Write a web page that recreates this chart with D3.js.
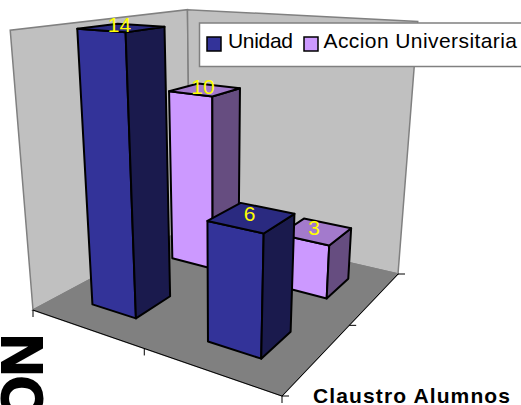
<!DOCTYPE html>
<html><head><meta charset="utf-8">
<script src="https://cdn.jsdelivr.net/npm/d3@7"></script>
<style>html,body{margin:0;background:#fff}svg{display:block}text{font-family:"Liberation Sans",Arial,sans-serif}</style>
</head><body><svg id="chart" width="521" height="405"></svg>
<script>
// Chart data
const categories = ["Claustro Docentes", "Claustro Alumnos"];
const seriesNames = ["Unidad", "Accion Universitaria"];
const unidad = [14, 6];
const accion = [10, 3];
const axisMax = 14;
const seriesFill = { "Unidad": ["#333399", "#1a1a4d", "#2a2a80"], "Accion Universitaria": ["#cc99ff", "#664d80", "#a37acc"] };

// Box corners of the 3D plot on screen
const floorCorners = [[33, 310], [282, 396], [398, 274], [190, 226]];
const wallTops = [[0, 0, 9, 29], [0, 1, 189, 11], [1, 1, 417, 21]];

// Plane-to-screen homography for the floor
function floorMatrix(q) {
  const [[x0, y0], [x1, y1], [x2, y2], [x3, y3]] = q;
  const dx1 = x1 - x2, dx2 = x3 - x2, sx = x0 - x1 + x2 - x3;
  const dy1 = y1 - y2, dy2 = y3 - y2, sy = y0 - y1 + y2 - y3;
  const den = dx1 * dy2 - dx2 * dy1;
  const g = (sx * dy2 - dx2 * sy) / den, h = (dx1 * sy - sx * dy1) / den;
  return [[x1 - x0 + g * x1, x3 - x0 + h * x3, x0], [y1 - y0 + g * y1, y3 - y0 + h * y3, y0], [g, h, 1]];
}
const H = floorMatrix(floorCorners);
const hom = (u, v) => H.map(r => r[0] * u + r[1] * v + r[2]);

// Least-squares column for the vertical axis, from the wall top corners
function verticalColumn() {
  const A = [], b = [];
  wallTops.forEach(([u, v, sx, sy]) => {
    const h = hom(u, v);
    A.push([1, 0, -sx]); b.push(sx * h[2] - h[0]);
    A.push([0, 1, -sy]); b.push(sy * h[2] - h[1]);
  });
  const N = [0, 1, 2].map(i => [0, 1, 2].map(j => d3.sum(A, r => r[i] * r[j])).concat(d3.sum(A, (r, k) => r[i] * b[k])));
  for (let i = 0; i < 3; i++) {
    let p = i;
    for (let k = i + 1; k < 3; k++) if (Math.abs(N[k][i]) > Math.abs(N[p][i])) p = k;
    [N[i], N[p]] = [N[p], N[i]];
    for (let k = 0; k < 3; k++) if (k !== i) {
      const f = N[k][i] / N[i][i];
      for (let c = i; c < 4; c++) N[k][c] -= f * N[i][c];
    }
  }
  return N.map((r, i) => r[3] / r[i]);
}
const V = verticalColumn();
function project(u, v, w) {
  const h = hom(u, v);
  const X = h[0] + w * V[0], Y = h[1] + w * V[1], Z = h[2] + w * V[2];
  return [X / Z, Y / Z];
}

// Scales from data to unit box coordinates
const xBand = d3.scaleBand().domain(categories).range([0, 1]).paddingInner(0.6).paddingOuter(0.3);
const depthBand = d3.scaleBand().domain(seriesNames).range([0, 1]).paddingInner(0.59).paddingOuter(0.295);
const zScale = d3.scaleLinear().domain([0, axisMax]).range([0, 1]);

const svg = d3.select("#chart");
const poly = pts => "M" + pts.map(p => p.map(n => n.toFixed(2)).join(",")).join("L") + "Z";

// Walls and floor
const boxFaces = [
  { pts: [[0, 0, 0], [0, 1, 0], [0, 1, 1], [0, 0, 1]], fill: "#c0c0c0" },
  { pts: [[0, 1, 0], [1, 1, 0], [1, 1, 1], [0, 1, 1]], fill: "#c0c0c0" },
  { pts: [[0, 0, 0], [1, 0, 0], [1, 1, 0], [0, 1, 0]], fill: "#808080" }
];
svg.append("g").selectAll("path").data(boxFaces).join("path")
  .attr("d", d => poly(d.pts.map(p => project(...p))))
  .attr("fill", d => d.fill).attr("stroke", "#808080").attr("stroke-width", 1.5);

// Floor axis lines and tick marks
const axes = svg.append("g").attr("stroke", "#000").attr("stroke-width", 1).attr("fill", "none");
axes.append("path").attr("d", poly([project(0, 0, 0), project(1, 0, 0), project(1, 1, 0)]).replace("Z", ""));
[0, 0.5, 1].forEach(t => {
  const [x, y] = project(t, 0, 0);
  axes.append("line").attr("x1", x).attr("y1", y).attr("x2", x).attr("y2", y + 7);
  const [a, b] = project(1, t, 0);
  axes.append("line").attr("x1", a).attr("y1", b).attr("x2", a + 7).attr("y2", b);
});

// Bars, painted back to front
const bars = [];
seriesNames.slice().reverse().forEach(name => {
  const vals = name === "Unidad" ? unidad : accion;
  categories.forEach((cat, i) => bars.push({ name, cat, value: vals[i] }));
});
const barG = svg.append("g").attr("stroke", "#000").attr("stroke-width", 2).attr("stroke-linejoin", "round");
bars.forEach(d => {
  const u0 = xBand(d.cat), u1 = u0 + xBand.bandwidth();
  const v0 = depthBand(d.name), v1 = v0 + depthBand.bandwidth();
  const w = zScale(d.value);
  const [front, side, top] = seriesFill[d.name];
  const face = (pts, fill) => barG.append("path").attr("d", poly(pts.map(p => project(...p)))).attr("fill", fill);
  face([[u0, v0, 0], [u1, v0, 0], [u1, v0, w], [u0, v0, w]], front);
  face([[u1, v0, 0], [u1, v1, 0], [u1, v1, w], [u1, v0, w]], side);
  face([[u0, v0, w], [u1, v0, w], [u1, v1, w], [u0, v1, w]], top);
});

// Value labels above each bar's top face
bars.forEach(d => {
  const u = xBand(d.cat) + xBand.bandwidth() / 2, v = depthBand(d.name) + depthBand.bandwidth() / 2;
  const [x, y] = project(u, v, zScale(d.value));
  svg.append("text").attr("x", x - 2).attr("y", y + 4).attr("text-anchor", "middle")
    .attr("font-size", 21).attr("fill", "#ffff00").text(d.value);
});

// Legend
svg.append("rect").attr("x", 199.5).attr("y", 23).attr("width", 330).attr("height", 43.5)
  .attr("fill", "#fff").attr("stroke", "#808080").attr("stroke-width", 1.5);
const legendPos = [{ sw: 207, tx: 228, len: 65 }, { sw: 304, tx: 323.5, len: 193.5 }];
seriesNames.forEach((name, i) => {
  svg.append("rect").attr("x", legendPos[i].sw).attr("y", 37).attr("width", 14).attr("height", 14)
    .attr("fill", seriesFill[name][0]).attr("stroke", "#000").attr("stroke-width", 1.5);
  svg.append("text").attr("x", legendPos[i].tx).attr("y", 48).attr("font-size", 21)
    .attr("textLength", legendPos[i].len).attr("fill", "#000").text(name);
});

// Category labels; the first one runs off the page edge
svg.append("text").attr("x", 313).attr("y", 403).attr("font-size", 21).attr("font-weight", "bold")
  .attr("textLength", 197).attr("fill", "#000").text(categories[1]);
svg.append("text").attr("transform", "translate(42,334) rotate(-90)").attr("text-anchor", "end")
  .attr("font-size", 58).attr("font-weight", "bold").attr("fill", "#000")
  .attr("stroke", "#000").attr("stroke-width", 2).text("ON");
</script></body></html>
